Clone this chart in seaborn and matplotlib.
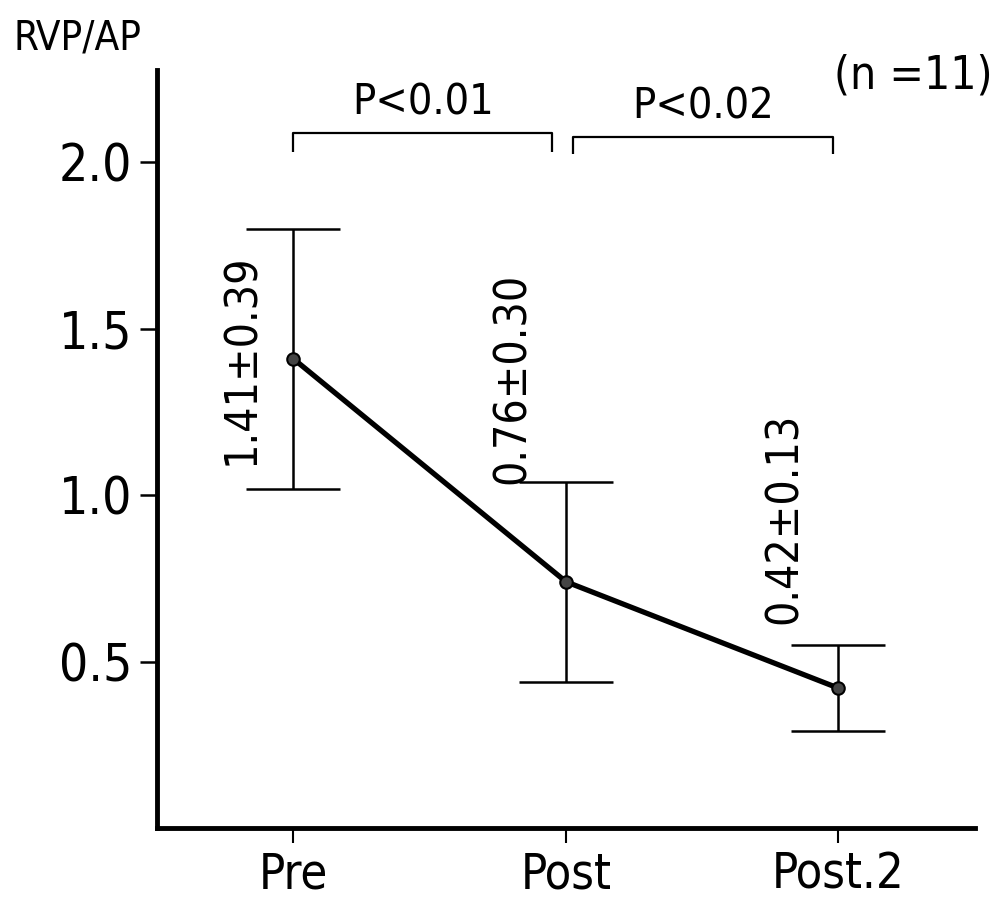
import matplotlib
matplotlib.use("Agg")
import matplotlib.pyplot as plt
from matplotlib import font_manager as fm
import seaborn as sns
import pandas as pd
import numpy as np

# ---- data ----
categories = ["Pre", "Post", "Post.2"]
means = [1.41, 0.74, 0.42]
sds = [0.39, 0.30, 0.13]
value_labels = ["1.41±0.39", "0.76±0.30", "0.42±0.13"]
p_labels = ["P<0.01", "P<0.02"]
yticks = [0.5, 1.0, 1.5, 2.0]
ytick_labels = ["0.5", "1.0", "1.5", "2.0"]
n_label = "(n =11)"
y_title = "RVP/AP"

sns.set_theme(style="ticks")

# pick a narrow / condensed font if one is installed
def _pick_condensed():
    best = None
    for f in fm.fontManager.ttflist:
        nm = f.name
        st = str(f.stretch).lower()
        is_cond = ("narrow" in nm.lower() or "condensed" in nm.lower()
                   or "condensed" in st or "narrow" in st
                   or (st.isdigit() and int(st) < 500))
        if not is_cond:
            continue
        if f.style != "normal":
            continue
        w = f.weight
        try:
            w = int(w)
        except Exception:
            w = {"normal": 400, "regular": 400, "book": 400, "medium": 500}.get(str(w), 700)
        score = abs(w - 400)
        if "extra" in nm.lower() or "ultra" in nm.lower() or "extra" in st or "ultra" in st:
            score += 50
        if best is None or score < best[0]:
            best = (score, nm, f.stretch, f.fname)
    return best

pick = _pick_condensed()
if pick is not None:
    plt.rcParams["font.family"] = [pick[1], "DejaVu Sans"]
    plt.rcParams["font.stretch"] = pick[2]
else:
    plt.rcParams["font.family"] = ["DejaVu Sans"]
    plt.rcParams["font.stretch"] = "condensed"
plt.rcParams["text.color"] = "black"
plt.rcParams["axes.labelcolor"] = "black"
plt.rcParams["xtick.color"] = "black"
plt.rcParams["ytick.color"] = "black"

fig = plt.figure(figsize=(10.07, 8.97), dpi=100)
ax = fig.add_axes([0.156, 0.077, 0.812, 0.845])

df = pd.DataFrame({"x": np.arange(len(categories)), "y": means})
ax.errorbar(df["x"], df["y"], yerr=sds, fmt="none", ecolor="black",
            elinewidth=1.8, capsize=34, capthick=1.8, zorder=2)
sns.lineplot(data=df, x="x", y="y", ax=ax, color="black", linewidth=3.8,
             marker="o", markersize=9, markerfacecolor="#444444",
             markeredgecolor="black", markeredgewidth=1.5, zorder=3)

ax.set_xlim(-0.5, 2.5)
ax.set_ylim(0, 2.278)
ax.set_xticks(range(len(categories)))
ax.set_xticklabels(categories, fontsize=35)
ax.set_yticks(yticks)
ax.set_yticklabels(ytick_labels, fontsize=37)
ax.set_xlabel("")
ax.set_ylabel("")
for s in ["top", "right"]:
    ax.spines[s].set_visible(False)
for s in ["left", "bottom"]:
    ax.spines[s].set_linewidth(3.5)
    ax.spines[s].set_color("black")
ax.tick_params(axis="y", direction="out", length=12, width=1.8, pad=6, colors="black")
ax.tick_params(axis="x", direction="out", length=11, width=1.5, pad=5, colors="black")

# value annotations (rotated)
offs_x = [-0.19, -0.195, -0.2]
ann_y = [1.41, 1.35, 0.93]
for i, lab in enumerate(value_labels):
    ax.text(i + offs_x[i], ann_y[i], lab, rotation=90, ha="center", va="center",
            fontsize=32, color="black")

# significance brackets
brackets = [(0.0, 0.95, 2.089, 2.032), (1.027, 1.98, 2.077, 2.026)]
for (x0, x1, yh, ye), lab in zip(brackets, p_labels):
    ax.plot([x0, x0, x1, x1], [ye, yh, yh, ye], color="black", lw=1.6,
            clip_on=False, solid_capstyle="butt")
    ax.text((x0 + x1) / 2, yh + 0.09, lab, ha="center", va="center",
            fontsize=31, color="black")

fig.text(0.013, 0.957, y_title, ha="left", va="center", fontsize=29, color="black")
fig.text(0.907, 0.915, n_label, ha="center", va="center", fontsize=33, color="black")

fig.savefig("out.png", dpi=100)
